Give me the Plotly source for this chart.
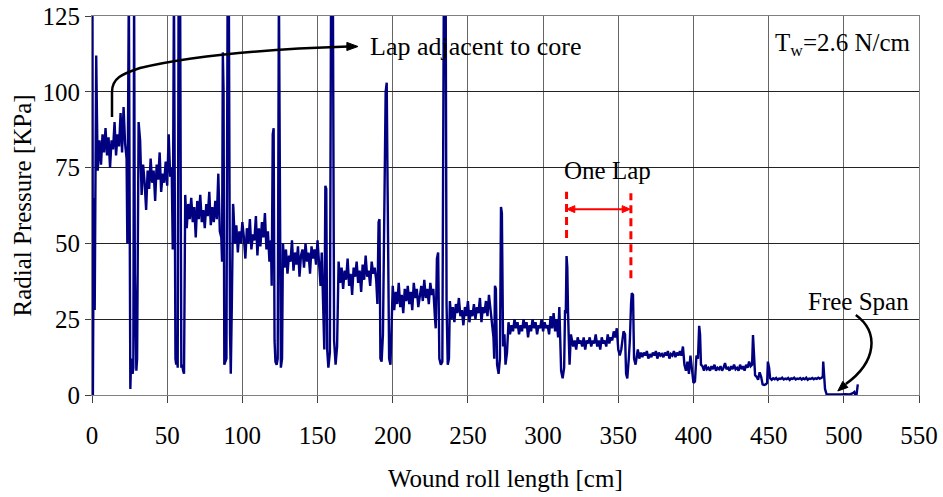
import plotly.graph_objects as go

# ---- data: (wound roll length [cm], radial pressure [KPa]), lap by lap ----
lap_00 = [(0, 0), (0.3, 135), (0.6, 0), (1.2, 65), (1.8, 28), (2.3, 60), (2.8, 112), (3.3, 92), (3.8, 74),
          (5, 84), (6, 76), (7, 86), (8, 80), (9, 88), (10, 79), (11, 85), (12, 75), (13, 84), (14, 81),
          (15, 90), (16, 79), (17, 86), (18, 82), (19, 93), (20, 80), (21, 95), (22, 83), (23, 78)]
lap_01 = [(23.5, 50), (24.5, 135), (25.5, 2), (26, 12), (26.5, 10), (27, 7), (27.5, 9), (28, 135), (28.5, 40),
          (29, 9), (29.5, 8), (30, 12), (30.5, 90), (31, 90), (32, 84), (33, 66), (34, 76), (35, 70), (36, 61),
          (37, 74), (38, 68), (39, 78), (40, 70), (41, 74), (42, 64), (43, 76), (44, 71), (45, 80), (46, 67),
          (47, 73), (48, 70), (49, 77), (50, 69), (51, 86), (52, 72), (53, 75)]
lap_02 = [(53.7, 48), (54.5, 135), (55.5, 12), (56, 10), (56.5, 13), (57, 9), (57.6, 135), (58.6, 135),
          (59.4, 9), (60, 10), (60.6, 8), (61.2, 7), (62, 66), (63, 55), (64, 63), (65, 58), (66, 65), (67, 57),
          (68, 62), (69, 52), (70, 64), (71, 58), (72, 66), (73, 57), (74, 61), (75, 55), (76, 63), (77, 59),
          (78, 67), (79, 56), (80, 62), (81, 57), (82, 64), (83, 58), (84, 73), (85, 54)]
lap_03 = [(86, 52), (86.5, 44), (87, 113), (87.5, 100), (88, 10), (88.7, 11), (89.4, 12), (90.2, 135),
          (91, 135), (91.8, 20), (92.3, 7), (93, 30), (93.8, 63), (94, 62), (95, 50), (96, 56), (97, 47),
          (98, 54), (99, 50), (100, 57), (101, 52), (102, 45), (103, 55), (104, 50), (105, 58), (106, 48),
          (107, 53), (108, 51), (109, 59), (110, 46), (111, 55), (112, 49), (113, 57), (114, 52), (115, 60),
          (116, 48), (117, 54), (118, 44), (119, 51)]
lap_04 = [(119.5, 36), (120.2, 86), (120.8, 88), (121.4, 18), (122, 11), (122.8, 10), (123.5, 12),
          (124.3, 135), (125, 60), (125.6, 9), (126.4, 12), (127, 50), (128, 42), (129, 48), (130, 40),
          (131, 46), (132, 44), (133, 51), (134, 41), (135, 47), (136, 43), (137, 49), (138, 39), (139, 46),
          (140, 48), (141, 42), (142, 50), (143, 44), (144, 47), (145, 40), (146, 49), (147, 45), (148, 48),
          (149, 43), (150, 51), (151, 44)]
lap_05 = [(152, 36), (152.8, 47), (153.6, 30), (154.5, 15), (155.2, 69), (155.8, 68), (156.4, 15),
          (157.2, 9), (158.2, 14), (159, 135), (160.2, 135), (161, 18), (162, 10), (163, 16), (164, 44),
          (165, 37), (166, 42), (167, 35), (168, 41), (169, 38), (170, 45), (171, 36), (172, 40), (173, 33),
          (174, 42), (175, 39), (176, 44), (177, 37), (178, 41), (179, 34), (180, 43), (181, 38), (182, 46),
          (183, 39), (184, 41), (185, 36), (186, 44), (187, 40), (188, 42), (189, 38)]
lap_06 = [(189.8, 30), (190.6, 57), (191.2, 58), (191.8, 12), (192.6, 11), (193.5, 20), (195.3, 100),
          (196, 103), (196.6, 68), (197.1, 40), (197.6, 12), (198.5, 10), (199.3, 30), (200, 36), (201, 28),
          (202, 34), (203, 30), (204, 37), (205, 29), (206, 33), (207, 27), (208, 35), (209, 31), (210, 36),
          (211, 30), (212, 34), (213, 28), (214, 37), (215, 32), (216, 35), (217, 29), (218, 33), (219, 36),
          (220, 31), (221, 38), (222, 32), (223, 35), (224, 30), (225, 37), (226, 33), (227, 35)]
lap_07 = [(228, 26), (228.6, 22), (229.4, 45), (230.2, 47), (231, 12), (232, 10), (233, 11), (234, 135),
          (235.2, 135), (235.8, 30), (236.6, 10), (237.4, 12), (238, 31), (239, 25), (240, 29), (241, 24),
          (242, 30), (243, 27), (244, 32), (245, 26), (246, 28), (247, 23), (248, 29), (249, 26), (250, 31),
          (251, 24), (252, 28), (253, 26), (254, 30), (255, 25), (256, 29), (257, 27), (258, 32), (259, 24),
          (260, 29), (261, 27), (262, 31), (263, 26), (264, 33), (265, 28)]
lap_08 = [(266, 22), (267, 19), (267.5, 12), (268, 36), (268.6, 35), (269.4, 10), (270.4, 7), (271.3, 12),
          (272, 62), (272.6, 60), (273.4, 16), (274.3, 20), (275, 10), (276, 14), (277, 24), (278, 20),
          (279, 23), (280, 21), (281, 25), (282, 22), (283, 24), (284, 20), (285, 23), (286, 21), (287, 25),
          (288, 22), (289, 24), (290, 19), (291, 23), (292, 21), (293, 25), (294, 22), (295, 24), (296, 20),
          (297, 23), (298, 22), (299, 25), (300, 21), (301, 24), (302, 22), (303, 23), (304, 20), (305, 26),
          (306, 22), (307, 27), (308, 21), (309, 25), (310, 19)]
lap_09 = [(310.8, 29), (311.4, 20), (312, 8), (313, 5.5), (314, 9), (314.6, 28), (315.1, 27), (315.6, 45.8),
          (316.1, 42), (316.6, 27), (317.1, 18), (317.6, 10), (318.5, 20), (319, 19), (320, 16), (321, 18),
          (322, 15), (323, 19), (324, 17), (325, 18), (326, 16), (327, 19), (328, 15), (329, 18), (330, 17),
          (331, 19), (332, 16), (333, 18), (334, 17), (335, 20), (336, 16), (337, 18), (338, 15), (339, 19),
          (340, 17), (341, 18), (342, 16), (343, 20), (344, 17), (345, 19), (346, 18), (347, 21)]
lap_10 = [(348, 19), (349, 22), (350, 15), (351, 13), (352, 15), (353.5, 21), (354.5, 20), (355.2, 7),
          (356, 5.5), (357, 12), (357.7, 18), (358.5, 30), (359, 33.6), (359.8, 33), (360.5, 12), (361.5, 10),
          (362.5, 15), (363, 15), (364, 12), (365, 14), (366, 12.5), (367, 14), (368, 13), (369, 14.5),
          (370, 12), (371, 13.5), (372, 12.5), (373, 14), (374, 13), (375, 14.5), (376, 12), (377, 14),
          (378, 13), (379, 13.5), (380, 12.5), (381, 14), (382, 13), (383, 14.5), (384, 12), (385, 13.5),
          (386, 13), (387, 14.5), (388, 12.5), (389, 14), (390, 13), (391, 14.5), (392, 13)]
lap_11 = [(393, 16), (394, 10), (395, 8), (396, 11), (397, 7), (398, 13), (399, 9), (400, 4), (401, 4.5),
          (402, 13), (403, 12), (403.8, 22.8), (404.4, 20), (405, 10), (406, 9.5), (407, 8), (408, 10),
          (409, 8.5), (410, 9), (411, 8), (412, 9.5), (413, 8.5), (414, 10), (415, 8), (416, 9), (417, 8.5),
          (418, 9.5), (419, 8), (420, 9), (421, 10.5), (422, 8.5), (423, 9), (424, 8), (425, 9.5), (426, 8.5),
          (427, 10), (428, 8.5), (429, 9), (430, 8), (431, 10), (432, 8.5), (433, 9.5), (434, 8), (435, 10),
          (436, 9), (437, 11), (438, 9.5)]
lap_12 = [(439, 10), (439.6, 19.8), (440.3, 12), (441, 6.5), (442, 6), (443, 5), (444, 7.5), (445, 6),
          (446, 3.5), (447, 3.3), (448, 3.5), (449, 4), (449.5, 11), (450.3, 9), (451, 5.5), (452, 5),
          (453, 5.5), (454, 5.2), (455, 5.6), (456, 5), (457, 5.4), (458, 5.3), (459, 5.7), (460, 5.1),
          (461, 5.4), (462, 5.2), (463, 5.6), (464, 5), (465, 5.5), (466, 5.3), (467, 5.7), (468, 5.1),
          (469, 5.4), (470, 5.3), (471, 5.6), (472, 5.1), (473, 5.5), (474, 5.2), (475, 5.7), (476, 5),
          (477, 5.4), (478, 5.3), (479, 5.6), (480, 5.2), (481, 5.5), (482, 5.3), (483, 5.7), (484, 5.4),
          (485, 5.6)]
free_span = [(486, 6), (486.3, 11), (486.7, 6), (487.5, 2), (488.5, 0.3), (492, 0.2), (495, 0.3), (498, 0.2),
             (501, 0.3), (504, 0.2), (506, 0.6), (507, 1), (507.5, 0.3), (508.5, 0.3), (509.3, 3.5)]

segments = [lap_00, lap_01, lap_02, lap_03, lap_04, lap_05, lap_06, lap_07, lap_08, lap_09, lap_10,
            lap_11, lap_12, free_span]
length_cm = [p[0] for s in segments for p in s]
pressure_kpa = [p[1] for s in segments for p in s]

x_ticks = [0, 50, 100, 150, 200, 250, 300, 350, 400, 450, 500, 550]
y_ticks = [0, 25, 50, 75, 100, 125]

FONT = "Liberation Serif, Times New Roman, serif"

fig = go.Figure()
fig.add_trace(go.Scatter(x=length_cm, y=pressure_kpa, mode="lines",
                         line=dict(color="#000080", width=2.4), hoverinfo="skip", showlegend=False))

fig.update_layout(
    width=943, height=497,
    margin=dict(l=92, r=24, t=16, b=102, autoexpand=False),
    paper_bgcolor="white", plot_bgcolor="white",
    font=dict(family=FONT, size=25, color="black"),
    showlegend=False,
)
fig.update_xaxes(range=[0, 550], tickvals=x_ticks, ticktext=[str(v) for v in x_ticks], automargin=False,
                 showgrid=True, gridcolor="#666666", gridwidth=1, zeroline=False,
                 showline=True, linecolor="#808080", linewidth=1, mirror=True,
                 ticks="outside", ticklen=7, tickcolor="#404040", tickwidth=1,
                 ticklabelstandoff=11, tickfont=dict(family=FONT, size=25, color="black"))
fig.update_yaxes(range=[0, 125], tickvals=y_ticks, ticktext=[str(v) for v in y_ticks], automargin=False,
                 showgrid=True, gridcolor="#222222", gridwidth=1, zeroline=False,
                 showline=True, linecolor="#808080", linewidth=1, mirror=True,
                 ticks="outside", ticklen=6, tickcolor="#404040", tickwidth=1,
                 tickfont=dict(family=FONT, size=25, color="black"))

# axis titles
fig.add_annotation(text="Wound roll length [cm]", xref="paper", yref="paper", x=0.5, y=-0.219,
                   xanchor="center", yanchor="middle", showarrow=False, font=dict(size=25))
fig.add_annotation(text="Radial Pressure [KPa]", xref="paper", yref="paper", x=-0.0846, y=0.5,
                   xanchor="center", yanchor="middle", textangle=-90, showarrow=False, font=dict(size=25))

# text labels
fig.add_annotation(text="Lap adjacent to core", x=183.5, y=114.8, xanchor="left", yanchor="middle",
                   showarrow=False, font=dict(size=26))
fig.add_annotation(text="T<sub>w</sub>=2.6 N/cm", x=546, y=115.5, xanchor="right", yanchor="middle",
                   showarrow=False, font=dict(size=25))
fig.add_annotation(text="One Lap", x=343, y=73.9, xanchor="center", yanchor="middle",
                   showarrow=False, font=dict(size=25))
fig.add_annotation(text="Free Span", x=510, y=30.7, xanchor="center", yanchor="middle",
                   showarrow=False, font=dict(size=25))

# black curved arrow to the lap adjacent to core
fig.add_shape(type="path", xref="x", yref="y",
              path="M 13.3,91.7 L 13.3,99.9 C 13.3,104.55 19.95,105.87 31.91,107.85 "
                   "C 65.16,111.81 118.35,114.12 170.5,114.94",
              line=dict(color="black", width=2.5))
fig.add_shape(type="path", xref="x", yref="y", path="M 176.9,114.94 L 169.5,116.3 L 169.5,113.6 Z",
              fillcolor="black", line=dict(color="black", width=1))

# black curved arrow to the free span
fig.add_shape(type="path", xref="x", yref="y",
              path="M 507.98,26.39 C 523.5,20.78 522.0,11.0 501.3,3.6",
              line=dict(color="black", width=2.5))
fig.add_shape(type="path", xref="x", yref="y", path="M 496.0,1.32 L 502.7,2.51 L 499.3,4.49 Z",
              fillcolor="black", line=dict(color="black", width=1))

# red "one lap" marker
fig.add_shape(type="line", xref="x", yref="y", x0=320, x1=353.5, y0=61.3, y1=61.3,
              line=dict(color="red", width=2))
fig.add_shape(type="path", xref="x", yref="y", path="M 315.8,61.3 L 321.1,62.45 L 321.1,60.15 Z",
              fillcolor="red", line=dict(color="red", width=1))
fig.add_shape(type="path", xref="x", yref="y", path="M 357.9,61.3 L 352.6,62.45 L 352.6,60.15 Z",
              fillcolor="red", line=dict(color="red", width=1))
fig.add_shape(type="line", xref="x", yref="y", x0=315.6, x1=315.6, y0=51.8, y1=67,
              line=dict(color="red", width=3, dash="8px,5px"))
fig.add_shape(type="line", xref="x", yref="y", x0=358.4, x1=358.4, y0=38.5, y1=66.5,
              line=dict(color="red", width=3, dash="8px,5px"))

fig.write_html("out.html")
